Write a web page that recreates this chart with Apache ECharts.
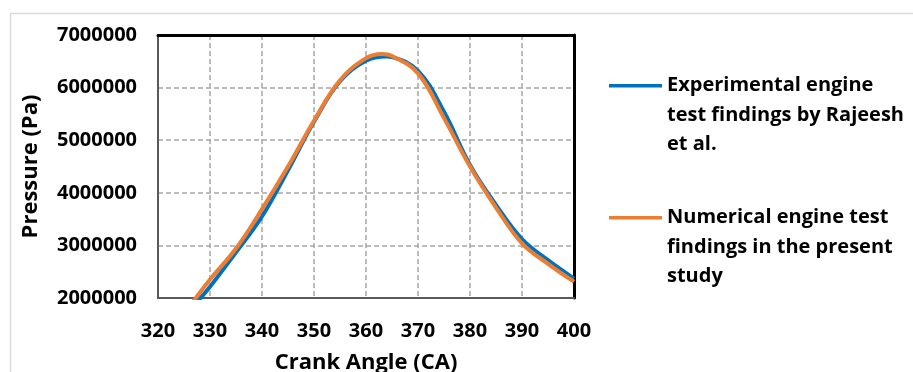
<!DOCTYPE html>
<html>
<head>
<meta charset="utf-8">
<script src="https://cdn.jsdelivr.net/npm/echarts@6/dist/echarts.min.js"></script>
<style>
  html, body { margin: 0; padding: 0; background: #ffffff; }
  #chart { width: 913px; height: 372px; }
</style>
</head>
<body>
<div id="chart"></div>
<script>
// Crank angle (deg) and in-cylinder pressure (Pa)
const expAngles   = [327, 330, 335, 340, 345, 350, 355, 360, 364, 365, 370, 375, 380, 385, 390, 395, 400];
const expPressure = [1870000, 2215000, 2870000, 3550000, 4430000, 5350000, 6120000, 6510000, 6590000, 6580000, 6320000, 5540000, 4530000, 3770000, 3120000, 2720000, 2370000];

const numAngles   = [326, 330, 335, 340, 345, 350, 355, 360, 363, 365, 370, 375, 380, 385, 390, 395, 400];
const numPressure = [1830000, 2350000, 2940000, 3690000, 4500000, 5370000, 6140000, 6560000, 6640000, 6600000, 6270000, 5420000, 4500000, 3720000, 3040000, 2650000, 2310000];

const xTicks = { min: 320, max: 400, interval: 10 };
const yTicks = { min: 2000000, max: 7000000, interval: 1000000 };

const expName = 'Experimental engine\ntest findings by Rajeesh\net al.';
const numName = 'Numerical engine test\nfindings in the present\nstudy';

const FONT = '"Open Sans", "Liberation Sans", sans-serif';
const pairs = (xs, ys) => xs.map((x, i) => [x, ys[i]]);

const chart = echarts.init(document.getElementById('chart'), null, { renderer: 'canvas' });

const gridLine = { show: true, lineStyle: { color: '#A6A6A6', width: 1.5, type: [5, 3] } };

// Legend entries: the key line sits beside the first line of each wrapped label
const legendText = {
  fontFamily: FONT, fontWeight: 'bold', fontSize: 20, color: '#000000', lineHeight: 29.5
};
const legendBase = {
  left: 609, padding: 0, icon: 'rect', itemWidth: 53, itemHeight: 3.5,
  textStyle: legendText, formatter: (name) => '\n\n' + name
};

chart.setOption({
  animation: false,
  backgroundColor: '#ffffff',
  graphic: [{
    type: 'rect', left: 8, top: 11, z: -10, silent: true,
    shape: { width: 1000, height: 500 },
    style: { fill: 'none', stroke: '#D9D9D9', lineWidth: 1.5 }
  }],
  grid: { left: 158, right: 339, top: 35, bottom: 74, containLabel: false, outerBoundsMode: 'none' },
  legend: [
    Object.assign({ data: [expName], top: 12 }, legendBase),
    Object.assign({ data: [numName], top: 144 }, legendBase)
  ],
  xAxis: [
    {
      type: 'value', position: 'bottom',
      min: xTicks.min, max: xTicks.max, interval: xTicks.interval,
      name: 'Crank Angle (CA)', nameLocation: 'middle', nameGap: 54,
      nameTextStyle: { fontFamily: FONT, fontWeight: 'bold', fontSize: 22, color: '#000000' },
      axisLine: { show: true, lineStyle: { color: '#595959', width: 2 } },
      axisTick: { show: false },
      axisLabel: { fontFamily: FONT, fontWeight: 'bold', fontSize: 20, color: '#000000', margin: 23 },
      splitLine: gridLine
    },
    {
      type: 'value', position: 'top',
      min: xTicks.min, max: xTicks.max, interval: xTicks.interval,
      axisLine: { show: true, onZero: false, lineStyle: { color: '#000000', width: 3 } },
      axisTick: { show: false }, axisLabel: { show: false }, splitLine: { show: false }
    }
  ],
  yAxis: [
    {
      type: 'value', position: 'left',
      min: yTicks.min, max: yTicks.max, interval: yTicks.interval,
      name: 'Pressure (Pa)', nameLocation: 'middle', nameGap: 116,
      nameTextStyle: { fontFamily: FONT, fontWeight: 'bold', fontSize: 22, color: '#000000' },
      axisLine: { show: true, lineStyle: { color: '#595959', width: 2 } },
      axisTick: { show: false },
      axisLabel: {
        fontFamily: FONT, fontWeight: 'bold', fontSize: 20, color: '#000000', margin: 21,
        formatter: (v) => String(v)
      },
      splitLine: gridLine
    },
    {
      type: 'value', position: 'right',
      min: yTicks.min, max: yTicks.max, interval: yTicks.interval,
      axisLine: { show: true, onZero: false, lineStyle: { color: '#000000', width: 3 } },
      axisTick: { show: false }, axisLabel: { show: false }, splitLine: { show: false }
    }
  ],
  series: [
    {
      name: expName, type: 'line', smooth: 0.4, showSymbol: false, clip: true,
      xAxisIndex: 0, yAxisIndex: 0,
      data: pairs(expAngles, expPressure),
      lineStyle: { color: '#0070C0', width: 4 },
      itemStyle: { color: '#0070C0' }
    },
    {
      name: numName, type: 'line', smooth: 0.4, showSymbol: false, clip: true,
      xAxisIndex: 0, yAxisIndex: 0,
      data: pairs(numAngles, numPressure),
      lineStyle: { color: '#ED7D31', width: 4 },
      itemStyle: { color: '#ED7D31' }
    }
  ]
});
</script>
</body>
</html>
